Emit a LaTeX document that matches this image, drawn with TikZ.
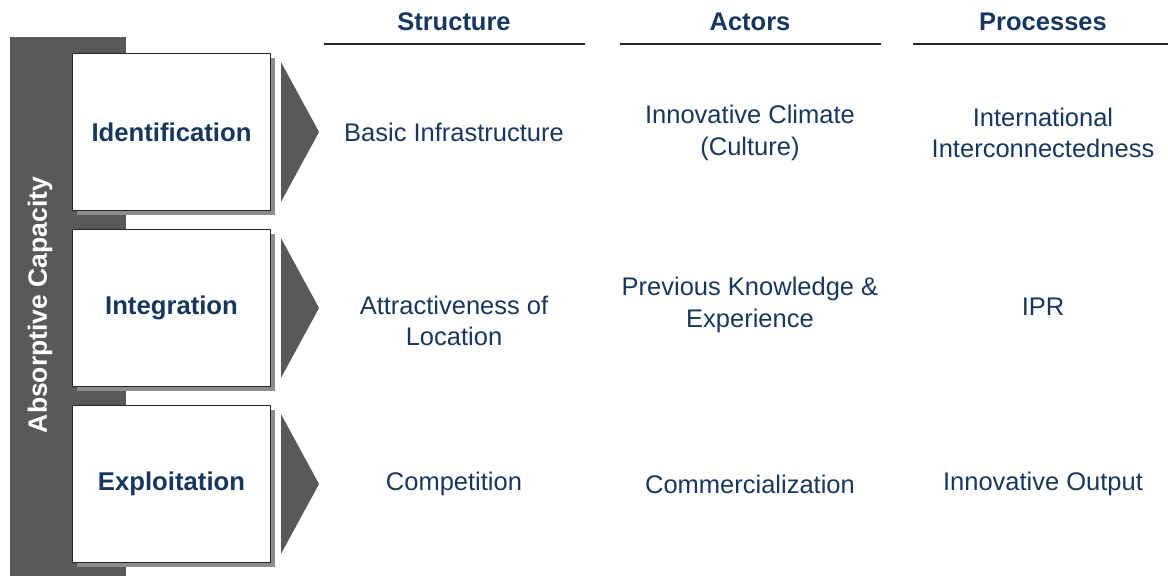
\documentclass[tikz,border=0pt]{standalone}
\usepackage{fontspec}
\setmainfont{Liberation Sans}
\definecolor{navy}{HTML}{17375E}
\definecolor{band}{HTML}{595959}
\definecolor{shadowc}{HTML}{8C8C8C}
\begin{document}
\begin{tikzpicture}[x=1pt,y=-1pt,
  stagebox/.style={draw=black!85,line width=1pt,fill=white,minimum width=198pt,minimum height=157pt,inner sep=0pt,anchor=north west,
    font=\fontsize{25.7}{30}\selectfont\bfseries,text=navy},
  shadowbox/.style={fill=shadowc,minimum width=198pt,minimum height=157pt,inner sep=0pt,anchor=north west},
  head/.style={font=\fontsize{25.5}{30}\selectfont\bfseries,text=navy},
  cell/.style={font=\fontsize{25.5}{31.5}\selectfont,text=navy,align=center},
  chev/.style={fill=band},
  rule/.style={line width=1.2pt,black!85}]
\useasboundingbox (0,0) rectangle (1168,576);
% band
\fill[band] (10,37) rectangle (126,576);
\node[rotate=90,text=white,font=\fontsize{26.5}{30}\selectfont\bfseries] (ac) at (40,305) {Absorptive Capacity};
% shadows and boxes
\foreach \y/\n in {53/1,229/2,405/3}{
  \node[shadowbox] (s\n) at (77,\y+5) {};
}
\node[stagebox] (b1) at (72,53) {Identification};
\node[stagebox] (b2) at (72,229) {Integration};
\node[stagebox] (b3) at (72,405) {Exploitation};
% chevrons
\foreach \n/\c in {1/132,2/308,3/484}{
  \fill[chev] (281,\c-70) -- (319,\c) -- (281,\c+70) -- cycle;
}
% headers
\node[head] (h1) at (454,22) {Structure};
\node[head] (h2) at (750,22) {Actors};
\node[head] (h3) at (1043,22) {Processes};
\coordinate (l1a) at (324,44); \coordinate (l1b) at (585,44);
\coordinate (l2a) at (620,44); \coordinate (l2b) at (881,44);
\coordinate (l3a) at (913,44); \coordinate (l3b) at (1168,44);
\draw[rule] (l1a) -- (l1b);
\draw[rule] (l2a) -- (l2b);
\draw[rule] (l3a) -- (l3b);
% cells
\node[cell] (c11) at (454,132) {Basic Infrastructure};
\node[cell] (c12) at (750,133) {Innovative Climate\\(Culture)};
\node[cell] (c13) at (1043,133) {International\\Interconnectedness};
\node[cell] (c21) at (454,321) {Attractiveness of\\Location};
\node[cell] (c22) at (750,305) {Previous Knowledge \&\\Experience};
\node[cell] (c23) at (1043,307) {IPR};
\node[cell] (c31) at (454,484) {Competition};
\node[cell] (c32) at (750,484) {Commercialization};
\node[cell] (c33) at (1043,484) {Innovative Output};
\end{tikzpicture}
\end{document}
